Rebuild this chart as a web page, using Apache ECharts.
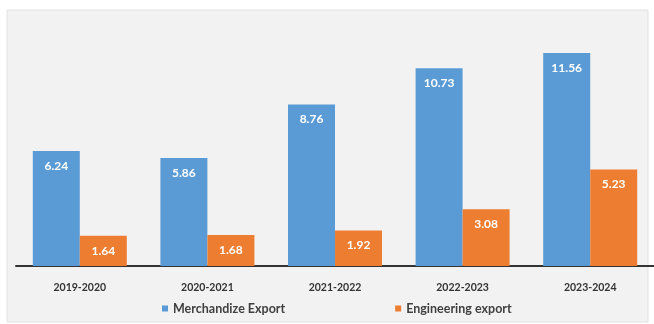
<!DOCTYPE html>
<html>
<head>
<meta charset="utf-8">
<script src="https://cdn.jsdelivr.net/npm/echarts@6/dist/echarts.min.js"></script>
<style>
  html, body { margin: 0; padding: 0; background: #fff; }
  #main { width: 654px; height: 324px; }
</style>
</head>
<body>
<div id="main"></div>
<script>
"use strict";

// 数据
const years = ['2019-2020', '2020-2021', '2021-2022', '2022-2023', '2023-2024'];
const merchandize = [6.24, 5.86, 8.76, 10.73, 11.56];
const engineering = [1.64, 1.68, 1.92, 3.08, 5.23];

let myChart = echarts.init(document.getElementById('main'));

const barLabel = {
  show: true,
  position: 'insideTop',
  distance: 9,
  color: '#ffffff',
  fontFamily: 'Lato',
  fontWeight: 'bold',
  fontSize: 12,
};

let option = {
  backgroundColor: '#ffffff',
  animation: false,
  graphic: [
    { // 背景面板
      type: 'rect',
      z: -10,
      shape: { x: 7, y: 10, width: 641, height: 312 },
      style: { fill: '#f2f2f2', stroke: '#e2e2e2', lineWidth: 1 },
    },
  ],
  grid: {
    left: 16,
    right: 0,
    top: 8,
    bottom: 58,
  },
  legend: {
    bottom: 4,
    left: 157,
    itemWidth: 6,
    itemHeight: 6,
    itemGap: 110,
    icon: 'rect',
    textStyle: {
      fontFamily: 'Lato',
      fontWeight: 'bold',
      fontSize: 12.5,
      color: '#404040',
    },
    data: ['Merchandize Export', 'Engineering export'],
  },
  xAxis: {
    type: 'category',
    data: years,
    axisLine: { lineStyle: { color: '#333333', width: 2 } },
    axisTick: { show: false },
    axisLabel: {
      margin: 16,
      fontFamily: 'Lato',
      fontWeight: 'bold',
      fontSize: 10.5,
      color: '#333333',
    },
  },
  yAxis: {
    type: 'value',
    min: 0,
    max: 14,
    show: false,
    splitLine: { show: false },
  },
  series: [
    {
      name: 'Merchandize Export',
      type: 'bar',
      data: merchandize,
      barWidth: 47,
      barGap: '0%',
      itemStyle: { color: '#5b9bd5' },
      label: barLabel,
    },
    {
      name: 'Engineering export',
      type: 'bar',
      data: engineering,
      barWidth: 47,
      barGap: '0%',
      itemStyle: { color: '#ed7d31' },
      label: barLabel,
    },
  ],
};

myChart.setOption(option);
</script>
</body>
</html>
